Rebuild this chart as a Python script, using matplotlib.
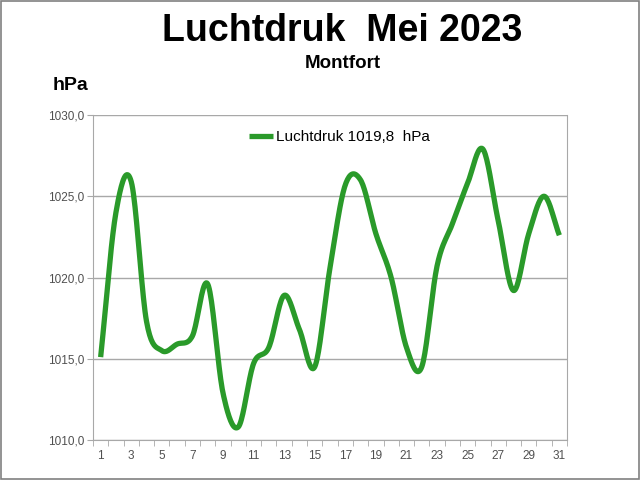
import numpy as np
import matplotlib
matplotlib.use('Agg')
import matplotlib.pyplot as plt
from matplotlib.ticker import FixedLocator, FuncFormatter

plt.rcParams['font.family'] = ['Liberation Sans', 'DejaVu Sans']

# Daily air pressure, May 2023 (hPa)
days = list(range(1, 32))
pressure = [1015.1, 1024.0, 1025.9, 1017.3, 1015.5, 1015.9, 1016.4, 1019.6,
            1012.9, 1010.8, 1014.7, 1015.7, 1018.9, 1016.8, 1014.5, 1020.6,
            1025.7, 1026.0, 1022.7, 1020.0, 1015.7, 1014.5, 1020.7, 1023.3,
            1025.8, 1027.9, 1023.5, 1019.2, 1022.7, 1025.0, 1022.6]
mean_label = "Luchtdruk 1019,8  hPa"
tick_days = list(range(1, 32, 2))


def smooth(x, y, n=20):
    # Catmull-Rom curve through the points, like a smoothed spreadsheet line
    x = np.asarray(x, float)
    y = np.asarray(y, float)
    px = np.concatenate([[2 * x[0] - x[1]], x, [2 * x[-1] - x[-2]]])
    py = np.concatenate([[2 * y[0] - y[1]], y, [2 * y[-1] - y[-2]]])
    xs, ys = [], []
    t = np.linspace(0, 1, n, endpoint=False)
    for i in range(1, len(px) - 2):
        for p, out in ((px, xs), (py, ys)):
            p0, p1, p2, p3 = p[i - 1], p[i], p[i + 1], p[i + 2]
            out.extend(0.5 * (2 * p1 + (-p0 + p2) * t
                              + (2 * p0 - 5 * p1 + 4 * p2 - p3) * t ** 2
                              + (-p0 + 3 * p1 - 3 * p2 + p3) * t ** 3))
    xs.append(x[-1])
    ys.append(y[-1])
    return np.array(xs), np.array(ys)


green = '#2a9a2a'
grey = '#a8a8a8'
fig = plt.figure(figsize=(6.4, 4.8), dpi=100)
ax = fig.add_axes([93 / 640, 1 - 440 / 480, (567 - 93) / 640, (440 - 115) / 480])

sx, sy = smooth(days, pressure)
ax.plot(sx, sy, color=green, linewidth=3.8, solid_capstyle='butt',
        label=mean_label)

ax.set_xlim(0.5, 31.5)
ax.set_ylim(1010, 1030)
ax.set_yticks([1010, 1015, 1020, 1025, 1030])
ax.yaxis.set_major_formatter(FuncFormatter(lambda v, p: f"{v:.1f}".replace('.', ',')))
ax.grid(axis='y', color=grey, linewidth=1)
ax.set_axisbelow(True)

ax.set_xticks(tick_days)
ax.set_xticklabels([str(d) for d in tick_days])
ax.tick_params(axis='x', which='major', length=0, pad=7)
ax.xaxis.set_minor_locator(FixedLocator(np.arange(0.5, 32, 1)))
ax.tick_params(axis='x', which='minor', length=4, color=grey, direction='out')
ax.tick_params(axis='y', length=4, color=grey, direction='out', pad=2)
ax.tick_params(labelsize=8.5, labelcolor='#505050')
for s in ax.spines.values():
    s.set_color(grey)
ax.spines['top'].set_visible(False)

ax.legend(loc='upper center', bbox_to_anchor=(0.52, 0.995), frameon=False,
          fontsize=11, handlelength=1.6, handletextpad=0.2)

fig.text(0.535, 0.936, "Luchtdruk  Mei 2023", ha='center', va='center',
         fontsize=27, fontweight='bold')
fig.text(0.536, 0.868, "Montfort", ha='center', va='center',
         fontsize=13.5, fontweight='bold')
fig.text(0.11, 0.822, "hPa", ha='center', va='center',
         fontsize=14, fontweight='bold')

fig.patches.append(plt.Rectangle((0.001, 0.002), 0.997, 0.996, transform=fig.transFigure,
                                 fill=False, edgecolor='#808080', linewidth=1.2))

fig.savefig("out.png", dpi=100)
